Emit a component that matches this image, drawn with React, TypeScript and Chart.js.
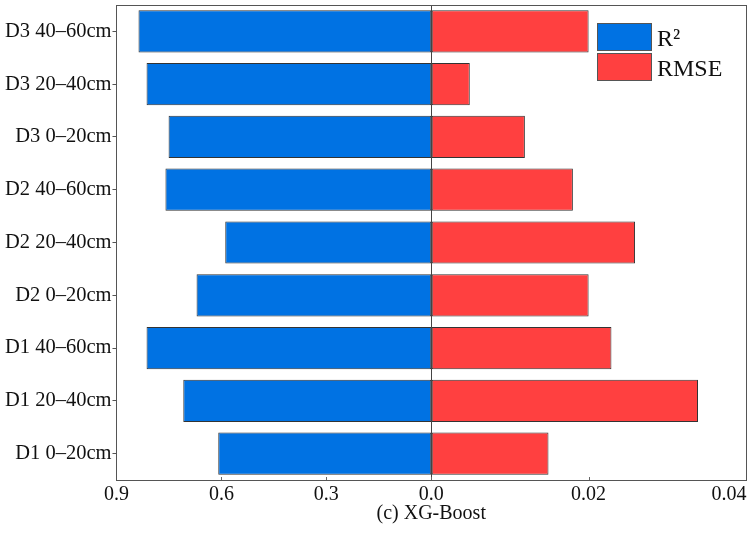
import React, { useEffect, useRef } from "react";
import { Chart, registerables } from "chart.js";

Chart.register(...registerables);

const categories = [
  "D3 40–60cm",
  "D3 20–40cm",
  "D3 0–20cm",
  "D2 40–60cm",
  "D2 20–40cm",
  "D2 0–20cm",
  "D1 40–60cm",
  "D1 20–40cm",
  "D1 0–20cm",
];
const r2Values = [0.837, 0.814, 0.751, 0.76, 0.589, 0.671, 0.814, 0.709, 0.609];
const rmseValues = [0.02, 0.0049, 0.0119, 0.018, 0.0259, 0.02, 0.0229, 0.0339, 0.0149];
const r2Ticks = [0.9, 0.6, 0.3, 0.0];
const rmseTicks = [0.02, 0.04];
const R2_MAX = 0.9;
const RMSE_MAX = 0.04;
const seriesLabels = ["R²", "RMSE"];
const seriesColors = ["#0072E3", "#FF4040"];
const titleText = "(c) XG-Boost";

const FONT = "'Liberation Serif', 'Times New Roman', serif";

const framePlugin = {
  id: "frame",
  afterDatasetsDraw(chart: any) {
    const { ctx, chartArea } = chart;
    const xs = chart.scales.xRMSE;
    ctx.save();
    ctx.lineWidth = 1;
    // zero line
    const zx = Math.round(xs.getPixelForValue(0)) + 0.5;
    ctx.strokeStyle = "#444";
    ctx.beginPath();
    ctx.moveTo(zx, chartArea.top);
    ctx.lineTo(zx, chartArea.bottom);
    ctx.stroke();
    // inward x tick marks
    ctx.strokeStyle = "#666";
    xs.ticks.forEach((t: any) => {
      const px = Math.round(xs.getPixelForValue(t.value)) + 0.5;
      if (px <= chartArea.left + 2 || px >= chartArea.right - 2) return;
      ctx.beginPath();
      ctx.moveTo(px, chartArea.bottom);
      ctx.lineTo(px, chartArea.bottom - 3);
      ctx.stroke();
    });
    // box
    ctx.strokeStyle = "#555";
    ctx.strokeRect(
      Math.round(chartArea.left) + 0.5,
      Math.round(chartArea.top) + 0.5,
      Math.round(chartArea.right - chartArea.left),
      Math.round(chartArea.bottom - chartArea.top)
    );
    // legend
    const x0 = Math.round(chartArea.right - 149);
    const y0 = Math.round(chartArea.top + 18);
    chart.data.datasets.forEach((ds: any, i: number) => {
      const y = y0 + i * 30;
      ctx.fillStyle = ds.backgroundColor;
      ctx.fillRect(x0, y, 54, 27);
      ctx.strokeStyle = "#555";
      ctx.strokeRect(x0 + 0.5, y + 0.5, 54, 27);
      ctx.fillStyle = "#111";
      ctx.font = `24px ${FONT}`;
      ctx.textBaseline = "alphabetic";
      ctx.textAlign = "left";
      ctx.fillText(ds.label, x0 + 60, y + 23);
    });
    ctx.restore();
  },
};

export default function App() {
  const ref = useRef<HTMLCanvasElement>(null);
  useEffect(() => {
    if (!ref.current) return;
    const chart = new Chart(ref.current, {
      type: "bar",
      data: {
        labels: categories,
        datasets: [
          {
            label: seriesLabels[0],
            data: r2Values,
            xAxisID: "xR2",
            backgroundColor: seriesColors[0],
            borderColor: "#333",
            borderWidth: 1,
            borderSkipped: false,
            grouped: false,
            barPercentage: 0.8,
            categoryPercentage: 1,
          } as any,
          {
            label: seriesLabels[1],
            data: rmseValues,
            xAxisID: "xRMSE",
            backgroundColor: seriesColors[1],
            borderColor: "#333",
            borderWidth: 1,
            borderSkipped: false,
            grouped: false,
            barPercentage: 0.8,
            categoryPercentage: 1,
          } as any,
        ],
      },
      options: {
        indexAxis: "y",
        animation: false,
        responsive: false,
        devicePixelRatio: 1,
        layout: { padding: { top: 5, right: 5, left: 4, bottom: 20 } },
        plugins: {
          legend: { display: false },
          tooltip: { enabled: false },
        },
        scales: {
          xR2: {
            type: "linear",
            min: -R2_MAX,
            max: R2_MAX,
            reverse: true,
            display: false,
          },
          xRMSE: {
            type: "linear",
            position: "bottom",
            min: -RMSE_MAX,
            max: RMSE_MAX,
            afterBuildTicks: (axis: any) => {
              axis.ticks = [
                ...r2Ticks.map((v) => ({ value: (-v * RMSE_MAX) / R2_MAX })),
                ...rmseTicks.map((v) => ({ value: v })),
              ];
            },
            afterFit: (axis: any) => {
              axis.paddingLeft = 0;
              axis.paddingRight = 0;
            },
            grid: {
              drawOnChartArea: false,
              drawTicks: false,
              color: "#555",
            },
            border: { display: true, color: "#555" },
            ticks: {
              autoSkip: false,
              maxRotation: 0,
              color: "#111",
              font: { family: FONT, size: 20, lineHeight: 0.8 },
              padding: 7,
              callback: (value: any, index: number, ticks: any[]) => {
                const v = Number(value);
                if (Math.abs(v) < 1e-12) return "0.0";
                if (v < 0) return ((-v * R2_MAX) / RMSE_MAX).toFixed(1);
                const s = v.toFixed(2);
                // last label sits inside the right spine, as in the source
                return index === ticks.length - 1 ? s + "\u2003\u2002\u2009" : s;
              },
            },
            title: {
              display: true,
              text: titleText,
              color: "#111",
              font: { family: FONT, size: 20, lineHeight: 0.8 },
              padding: { top: -4, bottom: -4 },
            },
          },
          y: {
            type: "category",
            afterFit: (axis: any) => {
              axis.paddingTop = 0;
              axis.paddingBottom = 0;
            },
            grid: {
              drawOnChartArea: false,
              drawTicks: true,
              offset: false,
              tickLength: 4,
              color: "#555",
            },
            border: { display: true, color: "#555" },
            ticks: {
              color: "#111",
              font: { family: FONT, size: 20.5 },
              padding: 1,
            },
          },
        },
      } as any,
      plugins: [framePlugin],
    });
    return () => chart.destroy();
  }, []);
  return (
    <div style={{ position: "absolute", left: 0, top: 0, width: 751, height: 538, background: "#fff" }}>
      <canvas ref={ref} width={751} height={538} />
    </div>
  );
}
